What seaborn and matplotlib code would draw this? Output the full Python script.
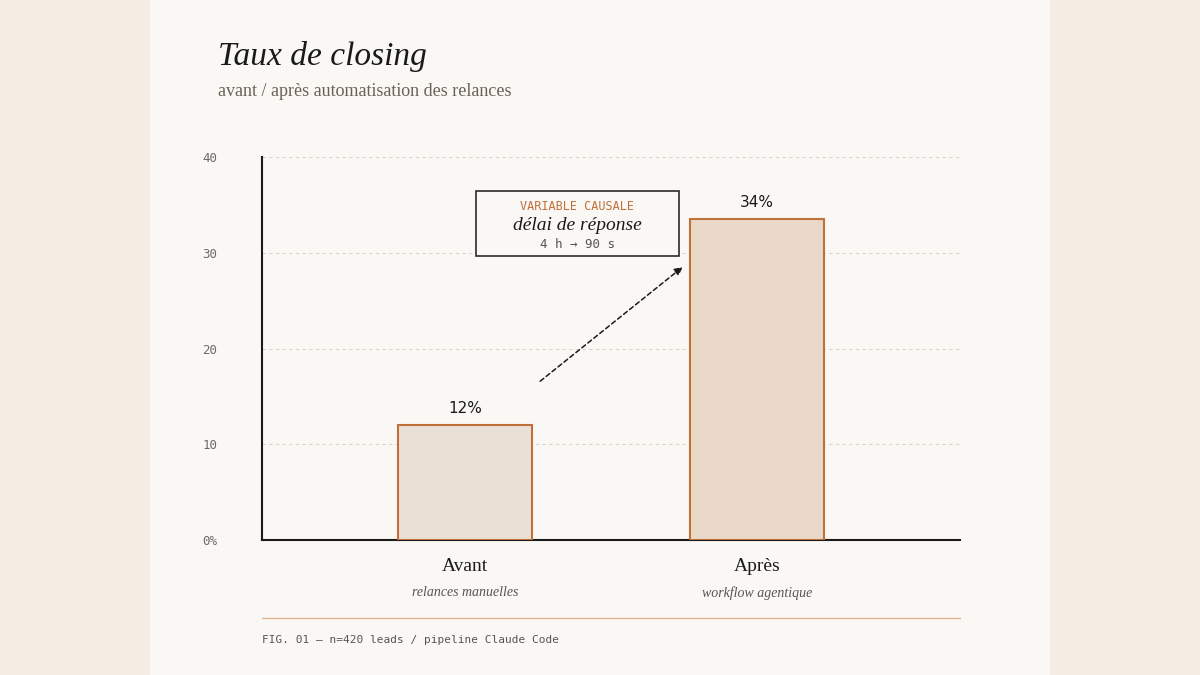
import matplotlib
matplotlib.use("Agg")
import matplotlib.pyplot as plt
import seaborn as sns
import pandas as pd
from matplotlib.patches import Rectangle
from matplotlib.lines import Line2D

categories = ["Avant", "Après"]
sublabels = ["relances manuelles", "workflow agentique"]
values = [12, 33.5]
value_labels = ["12%", "34%"]
yticks = [0, 10, 20, 30, 40]
ytick_labels = ["0%", "10", "20", "30", "40"]

sns.set_theme(style="white")
SERIF = ["Liberation Serif", "DejaVu Serif"]
MONO = ["DejaVu Sans Mono"]

fig = plt.figure(figsize=(12, 6.75), dpi=100, facecolor="#F5EDE4")
fig.add_artist(Rectangle((150/1200, 0), 900/1200, 1, transform=fig.transFigure,
                         facecolor="#FAF8F4", edgecolor="none", zorder=-10))
ax = fig.add_axes([262/1200, 135/675, 698/1200, 383/675])
ax.set_facecolor("#FAF8F4")
ax.patch.set_alpha(0)

df = pd.DataFrame({"cat": categories, "val": values})
sns.barplot(data=df, x="cat", y="val", ax=ax, width=0.462,
            palette=["#EDE0D3", "#F0D7C3"], hue="cat", legend=False,
            edgecolor="#C0703A", linewidth=1.5, zorder=3)
ax.set_xlim(-0.695, 1.695)
ax.set_ylim(0, 40)
ax.set_yticks(yticks)
ax.set_yticklabels(ytick_labels, family=MONO, fontsize=9, color="#6b6b6b")
ax.tick_params(axis="y", length=0, pad=32)
ax.set_xticks([])
ax.set_xlabel(""); ax.set_ylabel("")
for y in yticks[1:]:
    ax.axhline(y, color="#d8d4cc", lw=0.8, ls=(0, (3, 3)), zorder=1)
for s in ["top", "right"]:
    ax.spines[s].set_visible(False)
for s in ["left", "bottom"]:
    ax.spines[s].set_color("#1a1a1a"); ax.spines[s].set_linewidth(1.5)

for i, (v, lab) in enumerate(zip(values, value_labels)):
    ax.text(i, v + 1.0, lab, ha="center", va="bottom", fontsize=11, color="#1a1a1a", family=["DejaVu Sans"])
    ax.text(i, -2.8, categories[i], ha="center", va="center", fontsize=14, family=SERIF, color="#1a1a1a")
    ax.text(i, -5.5, sublabels[i], ha="center", va="center", fontsize=10, family=SERIF,
            style="italic", color="#555555")

ax.annotate("", xy=(0.753, 28.7), xytext=(0.25, 16.4),
            arrowprops=dict(arrowstyle="-|>", ls=(0, (3, 2)), color="#1a1a1a", lw=1.1))

fig.add_artist(Rectangle((476/1200, 1-256/675), 203/1200, 65/675, transform=fig.transFigure,
                         facecolor="#FAF8F4", edgecolor="#2a2a2a", lw=1.2, zorder=5))
fig.text(577/1200, 1-207/675, "VARIABLE CAUSALE", ha="center", va="center", family=MONO,
         fontsize=8.5, color="#C0703A", zorder=6)
fig.text(577/1200, 1-226/675, "délai de réponse", ha="center", va="center", family=SERIF,
         style="italic", fontsize=14, color="#1a1a1a", zorder=6)
fig.text(577/1200, 1-245/675, "4 h → 90 s", ha="center", va="center", family=MONO,
         fontsize=9, color="#555555", zorder=6)

fig.text(218/1200, 1-57/675, "Taux de closing", family=SERIF, style="italic", fontsize=24,
         color="#1a1a1a", va="center")
fig.text(218/1200, 1-92/675, "avant / après automatisation des relances", family=SERIF,
         fontsize=13, color="#6b6257", va="center")
fig.add_artist(Line2D([262/1200, 960/1200], [1-618/675]*2, transform=fig.transFigure,
                      color="#E0B48F", lw=1))
fig.text(262/1200, 1-640/675, "FIG. 01 — n=420 leads / pipeline Claude Code", family=MONO,
         fontsize=8, color="#555555", va="center")

fig.savefig("out.png", dpi=100, facecolor=fig.get_facecolor())
